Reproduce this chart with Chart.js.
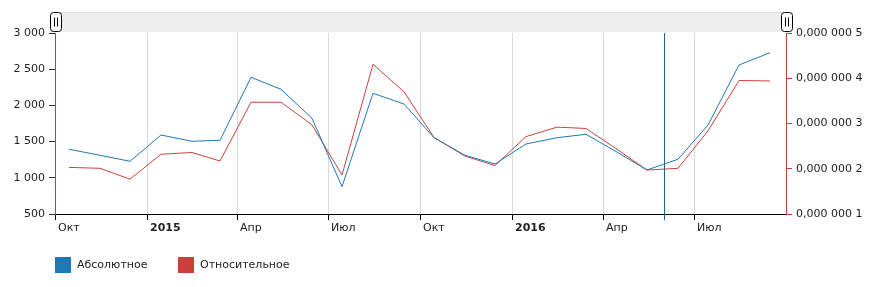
<!DOCTYPE html>
<html lang="ru">
<head>
<meta charset="utf-8">
<script src="https://cdn.jsdelivr.net/npm/chart.js@4/dist/chart.umd.min.js"></script>
<style>
  body { margin: 0; background: #fff; font-family: 'DejaVu Sans', Verdana, sans-serif; }
  #wrap { position: relative; width: 878px; height: 287px; }
  .legend { position: absolute; top: 257px; left: 55px; font-size: 11px; color: #222; }
  .legend span.item { position: absolute; top: 0; white-space: nowrap; line-height: 16px; }
  .legend i { display: inline-block; width: 16px; height: 16px; vertical-align: top; margin-right: 6px; }
</style>
</head>
<body>
<div id="wrap">
  <canvas id="chart" width="878" height="287"></canvas>
  <div class="legend">
    <span class="item" style="left:0"><i style="background:#1f77b4"></i>Абсолютное</span>
    <span class="item" style="left:123px"><i style="background:#c9403b"></i>Относительное</span>
  </div>
</div>
<script>
// months of the series (one point in the middle of each month)
const months = ['2014-10', '2014-11', '2014-12', '2015-01', '2015-02', '2015-03',
  '2015-04', '2015-05', '2015-06', '2015-07', '2015-08', '2015-09',
  '2015-10', '2015-11', '2015-12', '2016-01', '2016-02', '2016-03',
  '2016-04', '2016-05', '2016-06', '2016-07', '2016-08', '2016-09'];

const absolute = [1394, 1311, 1228, 1591, 1504, 1518, 2388, 2222, 1822, 877, 2167, 2019,
  1554, 1311, 1191, 1467, 1554, 1601, 1355, 1108, 1256, 1729, 2558, 2728];

const relative = [2.03e-7, 2.01e-7, 1.77e-7, 2.32e-7, 2.36e-7, 2.17e-7, 3.47e-7, 3.47e-7,
  2.97e-7, 1.86e-7, 4.31e-7, 3.70e-7, 2.69e-7, 2.28e-7, 2.07e-7, 2.71e-7, 2.92e-7,
  2.89e-7, 2.43e-7, 1.97e-7, 2.01e-7, 2.84e-7, 3.95e-7, 3.94e-7];

const tickDates = ['2014-10-01', '2015-01-01', '2015-04-01', '2015-07-01',
  '2015-10-01', '2016-01-01', '2016-04-01', '2016-07-01'];
const tickLabels = ['Окт', '2015', 'Апр', 'Июл', 'Окт', '2016', 'Апр', 'Июл'];

const rangeStart = '2014-10-01';
const rangeEnd = '2016-10-01';
const cursorDate = '2016-06-01';

const DAY = 86400000;
function dayOf(s) {
  const [y, m, d] = s.split('-').map(Number);
  return (Date.UTC(y, m - 1, d || 1) - Date.parse(rangeStart + 'T00:00:00Z')) / DAY;
}
function midMonth(s) {
  return dayOf(s + '-01') + 14;
}

const FONT = "'DejaVu Sans', Verdana, sans-serif";

function groupThousands(v) {
  return String(Math.round(v)).replace(/\B(?=(\d{3})+(?!\d))/g, ' ');
}
function fmtSmall(v) {
  const s = v.toFixed(7);
  const [i, f] = s.split('.');
  return i + ',' + f.replace(/(\d{3})(?=\d)/g, '$1 ');
}

const tickDays = tickDates.map(dayOf);

const scrollbar = {
  id: 'scrollbar',
  beforeDraw(chart) {
    const { ctx, chartArea: a } = chart;
    ctx.save();
    ctx.fillStyle = '#eeeeee';
    ctx.fillRect(a.left, 12, a.right - a.left, 20);
    ctx.strokeStyle = '#dddddd';
    ctx.lineWidth = 1;
    ctx.beginPath();
    ctx.moveTo(a.left, 12.5); ctx.lineTo(a.right, 12.5);
    ctx.stroke();
    ctx.restore();
  },
  afterDraw(chart) {
    const { ctx, chartArea: a } = chart;
    ctx.save();
    [a.left, a.right].forEach((x) => {
      const w = 11, h = 19, x0 = Math.round(x - w / 2) + 0.5, y0 = 12.5;
      ctx.fillStyle = '#ffffff';
      ctx.strokeStyle = '#000000';
      ctx.lineWidth = 1;
      ctx.beginPath();
      ctx.roundRect(x0, y0, w, h, 3);
      ctx.fill();
      ctx.stroke();
      ctx.beginPath();
      ctx.moveTo(x0 + 4, y0 + 5); ctx.lineTo(x0 + 4, y0 + h - 5);
      ctx.moveTo(x0 + 7, y0 + 5); ctx.lineTo(x0 + 7, y0 + h - 5);
      ctx.stroke();
    });
    ctx.restore();
  }
};

const cursorLine = {
  id: 'cursorLine',
  afterDatasetsDraw(chart) {
    const { ctx, chartArea: a } = chart;
    const x = Math.round(chart.scales.x.getPixelForValue(dayOf(cursorDate))) + 0.5;
    ctx.save();
    ctx.strokeStyle = '#1d6390';
    ctx.lineWidth = 1;
    ctx.beginPath();
    ctx.moveTo(x, a.top);
    ctx.lineTo(x, a.bottom + 6);
    ctx.stroke();
    ctx.restore();
  }
};

new Chart(document.getElementById('chart'), {
  type: 'line',
  data: {
    datasets: [{
      label: 'Абсолютное',
      data: months.map((m, i) => ({ x: midMonth(m), y: absolute[i] })),
      borderColor: '#1f77b4',
      borderWidth: 1,
      pointRadius: 0,
      tension: 0,
      yAxisID: 'y',
    }, {
      label: 'Относительное',
      data: months.map((m, i) => ({ x: midMonth(m), y: relative[i] })),
      borderColor: '#c9403b',
      borderWidth: 1,
      pointRadius: 0,
      tension: 0,
      yAxisID: 'y1',
    }],
  },
  options: {
    responsive: false,
    animation: false,
    layout: { padding: { top: 33, left: 0, right: 0, bottom: 0 } },
    plugins: { legend: { display: false }, tooltip: { enabled: false } },
    scales: {
      x: {
        type: 'linear',
        min: dayOf(rangeStart),
        max: dayOf(rangeEnd),
        afterBuildTicks: (scale) => { scale.ticks = tickDays.map((v) => ({ value: v })); },
        afterFit: (scale) => { scale.height = 73; },
        grid: { color: '#d9d9d9', tickColor: '#000', tickLength: 6 },
        border: { color: '#000', width: 1 },
        ticks: {
          autoSkip: false,
          maxRotation: 0,
          align: 'start',
          labelOffset: 3,
          padding: 2,
          color: '#222',
          callback: (v) => tickLabels[tickDays.indexOf(v)],
          font: (c) => ({
            family: FONT,
            size: 11,
            weight: c.tick && /^\d{4}$/.test(tickLabels[tickDays.indexOf(c.tick.value)] || '') ? 'bold' : 'normal',
          }),
        },
      },
      y: {
        position: 'left',
        min: 500,
        max: 3000,
        afterFit: (scale) => { scale.width = 55; },
        grid: { drawOnChartArea: false, tickColor: '#333', tickLength: 6 },
        border: { color: '#1f77b4', width: 1 },
        ticks: {
          stepSize: 500,
          padding: 4,
          color: '#222',
          font: { family: FONT, size: 11 },
          callback: (v) => groupThousands(v),
        },
      },
      y1: {
        position: 'right',
        min: 1e-7,
        max: 5e-7,
        afterFit: (scale) => { scale.width = 92; },
        grid: { drawOnChartArea: false, tickColor: '#c9403b', tickLength: 6 },
        border: { color: '#c9403b', width: 1 },
        ticks: {
          stepSize: 1e-7,
          padding: 4,
          color: '#222',
          font: { family: FONT, size: 11 },
          callback: (v) => fmtSmall(v),
        },
      },
    },
  },
  plugins: [scrollbar, cursorLine],
});
</script>
</body>
</html>
